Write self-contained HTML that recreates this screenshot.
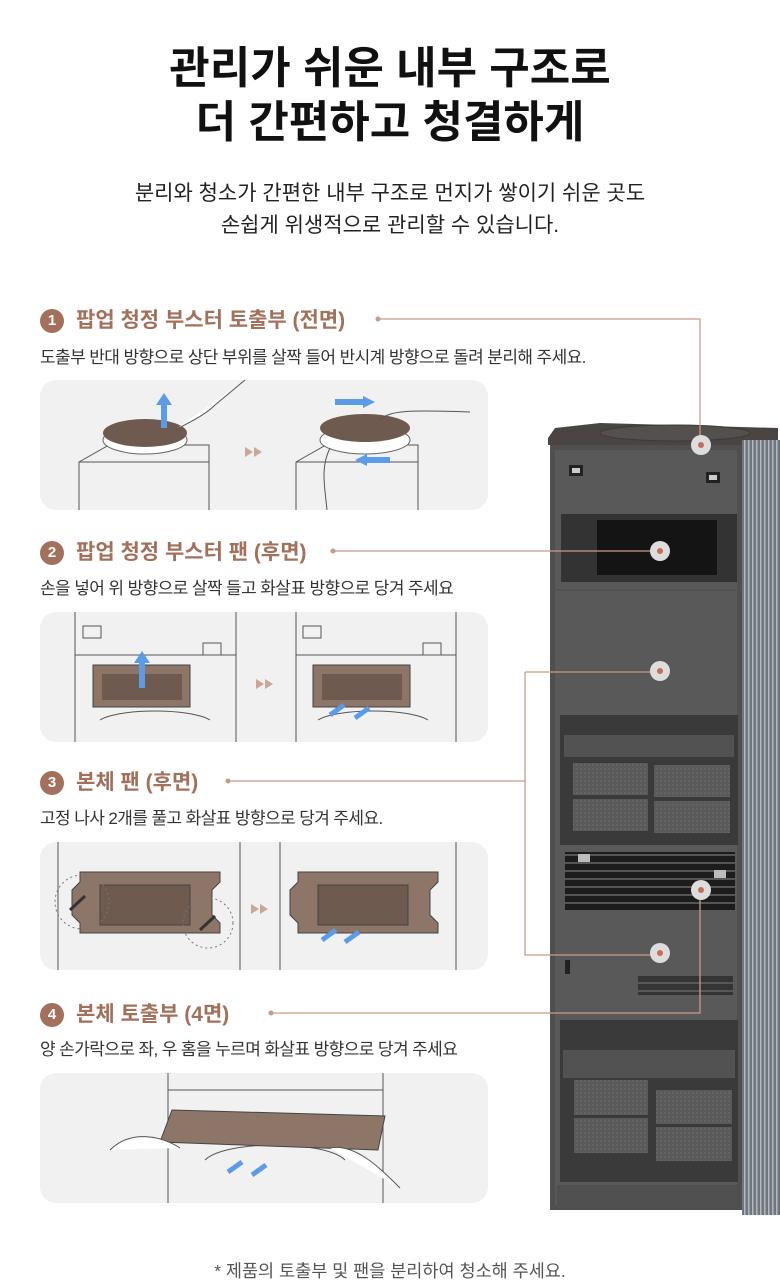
<!DOCTYPE html>
<html><head><meta charset="utf-8"><style>
html,body{margin:0;padding:0;background:#fff;}
body{width:780px;height:1280px;position:relative;overflow:hidden;font-family:"Liberation Sans","Noto Sans CJK KR",sans-serif;}
.t{position:absolute;white-space:nowrap;}
.h1{left:0;width:780px;text-align:center;font-size:44px;font-weight:bold;color:#111;line-height:54px;}
.sub{left:0;width:780px;text-align:center;font-size:21px;color:#222;line-height:32px;}
.hd{font-size:21px;font-weight:bold;color:#a3705b;}
.ds{font-size:17px;color:#333;letter-spacing:-0.6px;}
.num{display:inline-block;width:24px;height:24px;border-radius:50%;background:#a3705b;color:#fff;font-size:15px;text-align:center;line-height:24px;margin-right:12px;vertical-align:2px;}
svg{position:absolute;left:0;top:0;}
</style></head><body>
<svg width="780" height="1280" viewBox="0 0 780 1280">
<defs>
<pattern id="str" width="4" height="10" patternUnits="userSpaceOnUse"><rect width="4" height="10" fill="#6f767e"/><rect width="1.5" height="10" fill="#b3b9c0"/></pattern>
<pattern id="mesh" width="4" height="4" patternUnits="userSpaceOnUse"><rect width="4" height="4" fill="#5a5a5a"/><rect width="2" height="2" fill="#646464"/></pattern>
<pattern id="grill" width="10" height="8" patternUnits="userSpaceOnUse"><rect width="10" height="8" fill="#1c1c1c"/><rect y="6" width="10" height="2" fill="#555"/></pattern>
</defs>
<rect x="40" y="380" width="448" height="130" rx="16" fill="#f1f1f1"/>
<rect x="40" y="612" width="448" height="130" rx="16" fill="#f1f1f1"/>
<rect x="40" y="842" width="448" height="128" rx="16" fill="#f1f1f1"/>
<rect x="40" y="1073" width="448" height="130" rx="16" fill="#f1f1f1"/>
<g fill="none" stroke="#555" stroke-width="1">
<path d="M79 510V462l30-17h100v65M79 462h130"/><path d="M296 510V462l30-17h92v65M296 462h122"/>
</g>
<ellipse cx="145" cy="440" rx="42" ry="14" fill="#fff" stroke="#666"/>
<ellipse cx="145" cy="433" rx="42" ry="14" fill="#6e5a4e"/>
<rect x="161" y="400" width="6" height="28" fill="#5b9be8"/><polygon points="156,405 164,393 172,405" fill="#5b9be8"/>
<path d="M175 430c15-8 30-15 40-25l30-25" stroke="#555" fill="#fff"/>
<polygon points="245,447 253,452 245,457" fill="#c9a898"/><polygon points="254,447 262,452 254,457" fill="#c9a898"/>
<ellipse cx="365" cy="440" rx="45" ry="14" fill="#fff" stroke="#666"/>
<ellipse cx="365" cy="428" rx="45" ry="14" fill="#6e5a4e"/>
<path d="M335 402h30" stroke="#5b9be8" stroke-width="6"/><polygon points="363,396 375,402 363,408" fill="#5b9be8"/>
<path d="M365 460h25" stroke="#5b9be8" stroke-width="6"/><polygon points="367,454 355,460 367,466" fill="#5b9be8"/>
<path d="M380 420c10-10 30-10 90-8" stroke="#555" fill="none"/><path d="M330 448c-10 20-5 40 -3 62" stroke="#555" fill="none"/>
<g fill="none" stroke="#555">
<path d="M75 612v130M236 612v130M75 655h161M296 612v130M456 612v130M296 655h160"/>
<rect x="83" y="626" width="18" height="12"/><rect x="203" y="643" width="18" height="12"/>
<rect x="303" y="626" width="18" height="12"/><rect x="423" y="643" width="18" height="12"/>
<path d="M100 720c20-12 90-12 110 0M318 720c20-12 90-12 110 0"/>
</g>
<rect x="93" y="665" width="97" height="42" fill="#8d7668" stroke="#444"/><rect x="102" y="674" width="80" height="26" fill="#6e5a4e"/>
<rect x="313" y="665" width="97" height="42" fill="#8d7668" stroke="#444"/><rect x="322" y="674" width="80" height="26" fill="#6e5a4e"/>
<rect x="139" y="660" width="6" height="28" fill="#5b9be8"/><polygon points="134,663 142,651 150,663" fill="#5b9be8"/>
<path d="M330 715l14-10M355 718l14-10" stroke="#5b9be8" stroke-width="5"/>
<polygon points="256,679 264,684 256,689" fill="#c9a898"/><polygon points="265,679 273,684 265,689" fill="#c9a898"/>
<g fill="none" stroke="#555"><path d="M58 842v128M240 842v128M280 842v128M456 842v128"/></g>
<path d="M80 872h140v10l-8 8v25l8 8v10H80v-10l-8-8v-25l8-8z" fill="#8d7668" stroke="#444"/>
<rect x="100" y="885" width="90" height="40" fill="#6e5a4e" stroke="#444"/>
<path d="M298 872h140v10l-8 8v25l8 8v10H298v-10l-8-8v-25l8-8z" fill="#8d7668" stroke="#444"/>
<rect x="318" y="885" width="90" height="40" fill="#6e5a4e" stroke="#444"/>
<circle cx="82" cy="902" r="27" fill="none" stroke="#777" stroke-dasharray="2 3"/><circle cx="208" cy="923" r="25" fill="none" stroke="#777" stroke-dasharray="2 3"/>
<path d="M70 910l15-14M200 930l15-14" stroke="#333" stroke-width="3"/>
<path d="M322 940l14-10M345 942l14-10" stroke="#5b9be8" stroke-width="5"/>
<polygon points="251,904 259,909 251,914" fill="#c9a898"/><polygon points="260,904 268,909 260,914" fill="#c9a898"/>
<g fill="none" stroke="#555"><path d="M168 1073v130M383 1073v130M168 1090h215M205 1160c20-20 120-20 140 0"/></g>
<polygon points="172,1110 385,1116 378,1150 160,1142" fill="#8d7668" stroke="#444"/>
<path d="M110 1150c20-20 50-15 70-2M330 1148c25-5 50 20 70 40" stroke="#555" fill="#fff"/>
<path d="M228 1172l14-10M252 1175l14-10" stroke="#5b9be8" stroke-width="5"/>
<polygon points="548,438 555,428 600,423 778,428 778,445 548,445" fill="#4a4543"/>
<ellipse cx="675" cy="433" rx="75" ry="8" fill="#54504d" stroke="#3c3938"/>
<rect x="742" y="440" width="38" height="775" fill="url(#str)"/>
<rect x="550" y="445" width="192" height="765" fill="#4f4f4f"/>
<rect x="555" y="450" width="182" height="755" fill="#595959"/>
<rect x="569" y="465" width="14" height="11" fill="#222"/><rect x="572" y="468" width="8" height="5" fill="#ccc"/>
<rect x="706" y="472" width="14" height="11" fill="#222"/><rect x="709" y="475" width="8" height="5" fill="#ccc"/>
<rect x="561" y="514" width="176" height="68" fill="#333"/>
<rect x="597" y="520" width="120" height="55" fill="#141414"/>
<line x1="555" y1="590" x2="737" y2="590" stroke="#4c4c4c"/>
<rect x="560" y="715" width="178" height="130" fill="#3a3a3a"/>
<rect x="564" y="735" width="170" height="22" fill="#525252"/>
<rect x="573" y="763" width="75" height="32" fill="url(#mesh)"/><rect x="654" y="765" width="76" height="32" fill="url(#mesh)"/>
<rect x="573" y="799" width="75" height="32" fill="url(#mesh)"/><rect x="654" y="801" width="76" height="32" fill="url(#mesh)"/>
<rect x="565" y="852" width="170" height="58" fill="url(#grill)"/>
<rect x="578" y="854" width="12" height="8" fill="#bbb"/><rect x="714" y="870" width="12" height="8" fill="#bbb"/>
<rect x="638" y="975" width="95" height="20" fill="url(#grill)" opacity="0.6"/>
<rect x="565" y="960" width="5" height="14" fill="#222"/>
<rect x="560" y="1020" width="178" height="162" fill="#3a3a3a"/>
<rect x="563" y="1050" width="172" height="28" fill="#525252"/>
<rect x="574" y="1080" width="74" height="35" fill="url(#mesh)"/><rect x="656" y="1090" width="76" height="34" fill="url(#mesh)"/>
<rect x="574" y="1118" width="74" height="35" fill="url(#mesh)"/><rect x="656" y="1127" width="76" height="34" fill="url(#mesh)"/>
<rect x="557" y="1185" width="185" height="25" fill="#505050"/>
<g stroke="#c99a88" stroke-width="1.3" fill="none">
<path d="M378 319H700V445"/><path d="M333 551H660"/>
<path d="M228 781H525M525 672H660M525 672V955H660"/>
<path d="M271 1013H700V888"/>
</g>
<g fill="#c99a88"><circle cx="378" cy="319" r="2.5"/><circle cx="333" cy="551" r="2.5"/><circle cx="228" cy="781" r="2.5"/><circle cx="271" cy="1013" r="2.5"/></g>
<g><circle cx="701" cy="445" r="10" fill="#ddd"/><circle cx="660" cy="551" r="10" fill="#ddd"/><circle cx="660" cy="671" r="10" fill="#ddd"/><circle cx="701" cy="890" r="10" fill="#ddd"/><circle cx="660" cy="953" r="10" fill="#ddd"/></g>
<g fill="#c86b55"><circle cx="701" cy="445" r="3"/><circle cx="660" cy="551" r="3"/><circle cx="660" cy="671" r="3"/><circle cx="701" cy="890" r="3"/><circle cx="660" cy="953" r="3"/></g>
</svg>
<div class="t h1" style="top:42px">관리가 쉬운 내부 구조로</div>
<div class="t h1" style="top:96px">더 간편하고 청결하게</div>
<div class="t sub" style="top:178px">분리와 청소가 간편한 내부 구조로 먼지가 쌓이기 쉬운 곳도</div>
<div class="t sub" style="top:210px">손쉽게 위생적으로 관리할 수 있습니다.</div>
<div class="t hd" style="left:40px;top:304px"><span class="num">1</span>팝업 청정 부스터 토출부 (전면)</div>
<div class="t ds" style="left:40px;top:343px">도출부 반대 방향으로 상단 부위를 살짝 들어 반시계 방향으로 돌려 분리해 주세요.</div>
<div class="t hd" style="left:40px;top:536px"><span class="num">2</span>팝업 청정 부스터 팬 (후면)</div>
<div class="t ds" style="left:40px;top:574px">손을 넣어 위 방향으로 살짝 들고  화살표 방향으로 당겨 주세요</div>
<div class="t hd" style="left:40px;top:766px"><span class="num">3</span>본체 팬 (후면)</div>
<div class="t ds" style="left:40px;top:804px">고정 나사 2개를 풀고 화살표 방향으로 당겨 주세요.</div>
<div class="t hd" style="left:40px;top:998px"><span class="num">4</span>본체 토출부 (4면)</div>
<div class="t ds" style="left:40px;top:1035px">양 손가락으로 좌, 우 홈을 누르며 화살표 방향으로 당겨 주세요</div>
<div class="t" style="left:0;width:780px;text-align:center;top:1258px;font-size:17.5px;color:#555">* 제품의 토출부 및 팬을 분리하여 청소해 주세요.</div>
</body></html>
